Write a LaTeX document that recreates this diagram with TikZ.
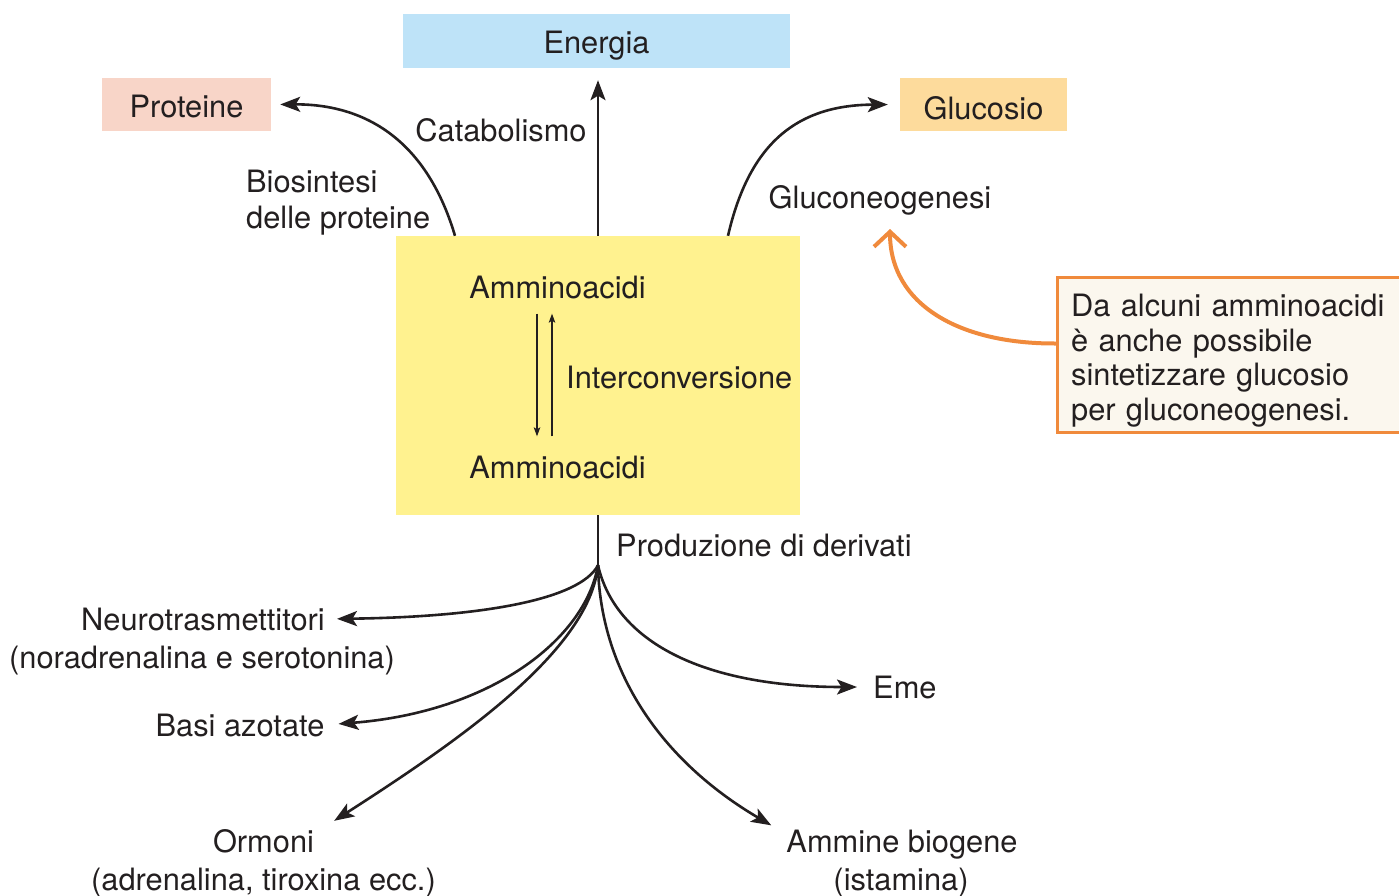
\documentclass[tikz,border=0pt]{standalone}
\usepackage{fontspec}
\setmainfont{TeX Gyre Heros}
\usetikzlibrary{arrows.meta,calc}
\definecolor{txt}{HTML}{231F20}
\definecolor{enblue}{HTML}{BEE3F8}
\definecolor{prpink}{HTML}{F8D5C8}
\definecolor{glorange}{HTML}{FDDB9C}
\definecolor{aayellow}{HTML}{FFF28F}
\definecolor{noteorange}{HTML}{F08A3C}
\definecolor{notefill}{HTML}{FBF7EE}
\begin{document}
\begin{tikzpicture}[x=1pt,y=-1pt,
  every node/.style={font=\fontsize{30.8}{37}\selectfont, text=txt, inner sep=0pt},
  colbox/.style={fill=#1, text depth=0pt},
  flow/.style={draw=txt, line width=2.6pt, -{Stealth[length=20pt,width=15pt,inset=4.5pt]}},
  stemline/.style={draw=txt, line width=2.6pt},
  thinarrow/.style={draw=txt, line width=1.3pt, -{Stealth[length=9pt,width=6.5pt,inset=2pt]}},
  orangearrow/.style={draw=noteorange, line width=4pt, line cap=round, line join=round, -{Straight Barb[length=15pt,width=32pt]}}
]
\useasboundingbox (0,0) rectangle (1399,896);

% top boxes
\node[colbox=enblue, minimum width=387pt, minimum height=54pt, text height=26pt] (en) at (596.5,41) {Energia};
\node[colbox=prpink, minimum width=169pt, minimum height=53pt, text height=27pt] (pr) at (186.5,104.5) {Proteine};
\node[colbox=glorange, minimum width=167pt, minimum height=53pt, text height=30pt] (gl) at (983.5,104.5) {Glucosio};

% central box
\node[colbox=aayellow, minimum width=404pt, minimum height=279pt] (aa) at (598,375.5) {};
\node[anchor=base] (a1) at (557.5,298) {Amminoacidi};
\node[anchor=base] (a2) at (557.5,478) {Amminoacidi};
\node[anchor=base west] (ic) at (566,388) {Interconversione};
\draw[thinarrow] ([xshift=-20.5pt,yshift=-15pt]a1.south) -- ([xshift=-20.5pt,yshift=19pt]a2.north);
\draw[thinarrow] ([xshift=-5.5pt,yshift=19pt]a2.north) -- ([xshift=-5.5pt,yshift=-15pt]a1.south);

% top labels
\node[anchor=base] (cat) at (501,142) {Catabolismo};
\node[anchor=west, align=left, font=\fontsize{30.8}{36}\selectfont] (bio) at (246,203) {Biosintesi\\delle proteine};
\node[anchor=base] (gn) at (880,208) {Gluconeogenesi};

% top connectors
\draw[flow] (aa.north) -- ([yshift=-12pt]aa.north |- en.south);
\draw[flow, shorten >=9pt] ([xshift=-143pt]aa.north) .. controls (425,135) and (360,104) .. (pr.east);
\draw[flow, shorten >=12pt] ([xshift=130pt]aa.north) .. controls (750,140) and (800,105) .. (gl.west);

% note box
\node[draw=noteorange, line width=3pt, fill=notefill, anchor=north west, minimum width=360pt, minimum height=155pt] (note) at (1056,276) {};
\node[anchor=north west, text width=325pt, align=left, font=\fontsize{30.8}{34.5}\selectfont] (notetxt) at (1071,294)
      {Da alcuni amminoacidi\\è anche possibile\\sintetizzare glucosio\\per gluconeogenesi.};
\draw[orangearrow] ([yshift=11.5pt]note.west) .. controls (960,344) and (890,305) .. ([xshift=10pt,yshift=-21pt]gn.base);

% bottom
\coordinate (hub) at ([yshift=-50pt]aa.south);
\draw[stemline] (aa.south) -- (hub);
\node[anchor=base west] (pd) at (616,556) {Produzione di derivati};

\node[anchor=base] (nt) at (203,630) {Neurotrasmettitori};
\node[anchor=base] (nt2) at (202,668) {(noradrenalina e serotonina)};
\node[anchor=base] (ba) at (240,736) {Basi azotate};
\node[anchor=base] (or) at (263.5,852) {Ormoni};
\node[anchor=base] (or2) at (263.5,890) {(adrenalina, tiroxina ecc.)};
\node[anchor=base west] (eme) at (873,698) {Eme};
\node[anchor=base] (am) at (902,852) {Ammine biogene};
\node[anchor=base] (am2) at (901,890) {(istamina)};

\draw[flow, shorten >=12pt] (hub) .. controls (580,600) and (480,617) .. (nt.east);
\draw[flow, shorten >=14pt] (hub) .. controls (585,640) and (490,712) .. (ba.east);
\draw[flow] (hub) .. controls (590,650) and (460,740) .. ([xshift=20pt,yshift=8pt]or.north east);
\draw[flow, shorten >=16pt] (hub) .. controls (615,640) and (700,687) .. (eme.west);
\draw[flow] (hub) .. controls (600,670) and (660,760) .. ([xshift=-15pt,yshift=4pt]am.north west);
\end{tikzpicture}
\end{document}
